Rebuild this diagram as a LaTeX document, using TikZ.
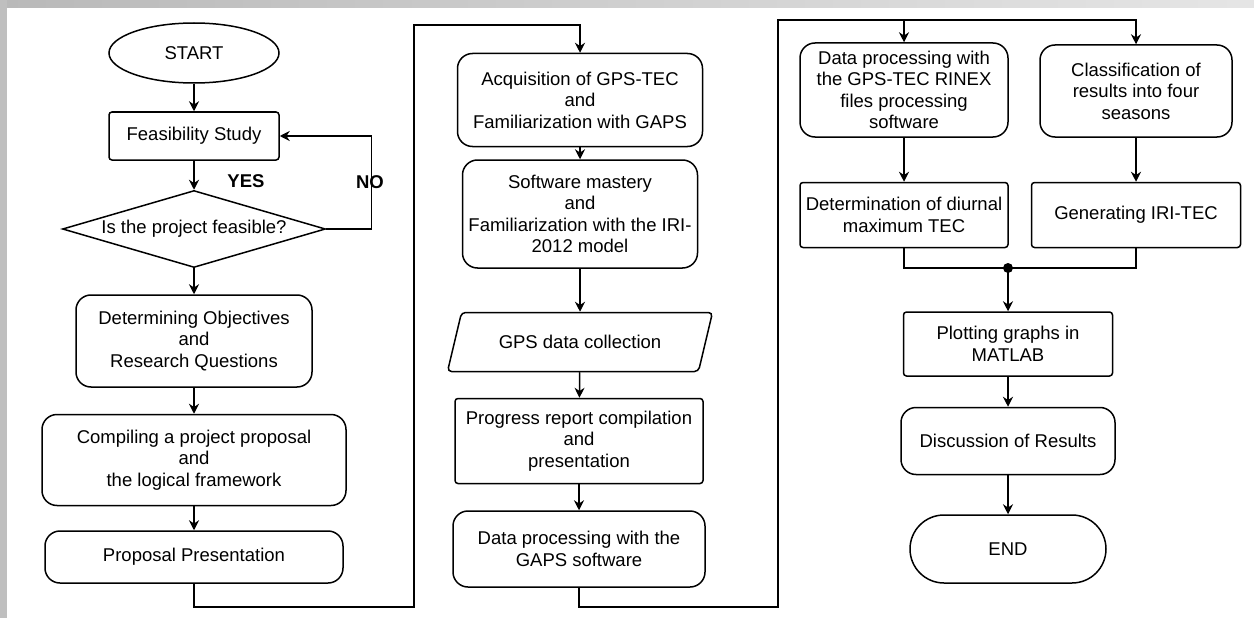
\documentclass[tikz,border=0pt]{standalone}
\usepackage{fontspec}
\setmainfont{Liberation Sans}
\usepackage{xcolor}
\usepackage{tikz}
\usetikzlibrary{positioning,calc,shapes.geometric,shapes.misc,arrows.meta}

\begin{document}
\begin{tikzpicture}[x=1pt,y=-1pt,
		line width=1.5pt,
		every node/.style={font=\fontsize{18.5}{21.5}\selectfont, align=center, inner sep=1pt},
		arr/.style={-{Stealth[length=10pt,width=10pt]}},
		boxsq/.style={draw, rectangle, rounded corners=3pt},
		boxrd/.style={draw, rectangle, rounded corners=15pt},
		lbl/.style={font=\fontsize{18.5}{21.5}\selectfont\bfseries}]
	\def\Wd{1254}
	\def\Ht{618}
	\useasboundingbox (0,0) rectangle (\Wd,\Ht);
	% frame shadow
	\fill[white] (0,0) rectangle (\Wd,\Ht);
	\shade[left color=gray!55, right color=gray!20] (0,0) rectangle (\Wd,8);
	\fill[gray!50] (0,0) rectangle (7,\Ht);
	
	% first column
	\node[draw, ellipse, minimum width=170, minimum height=60] (start) at (194,53) {START};
	\node[boxsq, minimum width=170, minimum height=48] (feas) at (194,136) {Feasibility Study};
	\node[draw, diamond, aspect=3.4, minimum width=263, minimum height=77] (feasq) at (194,229) {Is the project feasible?};
	\node[lbl] (yes) at (246,181) {YES};
	\node[lbl] (no) at (370,182) {NO};
	\node[boxrd, minimum width=236, minimum height=92] (obj) at (194,341) {Determining Objectives\\and\\Research Questions};
	\node[boxrd, minimum width=304, minimum height=91] (prop) at (194,460) {Compiling a project proposal\\and\\the logical framework};
	\node[boxrd, minimum width=298, minimum height=52] (pres) at (194,557) {Proposal Presentation};
	
	% second column
	\node[boxrd, minimum width=245, minimum height=93] (acq) at (580,100) {Acquisition of GPS-TEC\\and\\Familiarization with GAPS};
	\node[boxrd, minimum width=235, minimum height=108] (soft) at (580,214) {Software mastery\\and\\Familiarization with the IRI-\\2012 model};
	\node[draw, trapezium, trapezium left angle=48, trapezium right angle=132, trapezium stretches body,
		rounded corners=4pt, minimum width=265, minimum height=59] (gps) at (580,342) {GPS data collection};
	\node[boxsq, minimum width=248, minimum height=85] (prog) at (579,441) {Progress report compilation\\and\\presentation};
	\node[boxrd, minimum width=252, minimum height=76] (gaps) at (579,549) {Data processing with the\\GAPS software};
	
	% third column
	\node[boxrd, minimum width=208, minimum height=94] (rinex) at (904,90) {Data processing with\\the GPS-TEC RINEX\\files processing\\software};
	\node[boxrd, minimum width=192, minimum height=92] (clas) at (1136,91) {Classification of\\results into four\\seasons};
	\node[boxsq, minimum width=208, minimum height=65] (diur) at (904,215) {Determination of diurnal\\maximum TEC};
	\node[boxsq, minimum width=209, minimum height=65] (iri) at (1136,215) {Generating IRI-TEC};
	\node[boxsq, minimum width=209, minimum height=64] (plot) at (1008,344) {Plotting graphs in\\MATLAB};
	\node[boxrd, minimum width=214, minimum height=67] (disc) at (1008,441) {Discussion of Results};
	\node[draw, rounded rectangle, minimum width=198, minimum height=68] (stop) at (1008,549) {END};
	
	% turning points
	\coordinate (turnA) at (414,607);
	\coordinate (turnB) at (414,25);
	\coordinate (turnC) at (778,607);
	\coordinate (turnD) at (778,20);
	\coordinate (join) at (1008,268);
	
	% arrows
	\draw[arr] (start) -- (feas);
	\draw[arr] (feas) -- (feasq);
	\draw[arr] (feasq.east) -- ++(45,0) |- (feas.east);
	\draw[arr] (feasq) -- (obj);
	\draw[arr] (obj) -- (prop);
	\draw[arr] (prop) -- (pres);
	\draw[arr] (pres.south) |- (turnA) -- (turnB) -| (acq.north);
	\draw[arr] (acq) -- (soft);
	\draw[arr] (soft) -- (gps);
	\draw[arr] (gps) -- (prog);
	\draw[arr] (prog) -- (gaps);
	\draw[arr] (gaps.south) |- (turnC) -- (turnD) -| (clas.north);
	\draw[arr] (rinex.north |- turnD) -- (rinex.north);
	\draw[arr] (rinex) -- (diur);
	\draw[arr] (clas) -- (iri);
	\draw (diur.south) |- (join) -| (iri.south);
	\fill (join) circle (5pt);
	\draw[arr] (join) -- (plot.north);
	\draw[arr] (plot) -- (disc);
	\draw[arr] (disc) -- (stop);
\end{tikzpicture}
\end{document}
